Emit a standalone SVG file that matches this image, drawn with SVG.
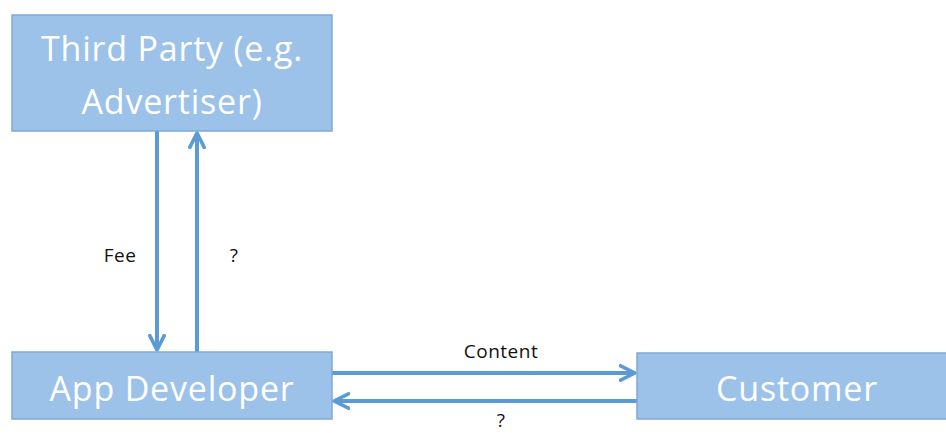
<svg xmlns="http://www.w3.org/2000/svg" width="946" height="433" viewBox="0 0 946 433">
<style>
.box{fill:#9CC2EA;stroke:#7EA9D8;stroke-width:1.5}
.bt{font-family:"Open Sans","Liberation Sans",sans-serif;font-size:34px;letter-spacing:0.8px;fill:#ffffff;text-anchor:middle}
.lbl{font-family:"Open Sans","Liberation Sans",sans-serif;font-size:19px;letter-spacing:0.5px;fill:#111111;text-anchor:middle}
.arr{stroke:#5B9BD5;stroke-width:4;fill:none;marker-end:url(#ah)}
</style>
<defs>
<marker id="ah" viewBox="0 0 10 10" refX="9" refY="5" markerWidth="4.5" markerHeight="4.5" orient="auto" markerUnits="strokeWidth">
<path d="M1,1 L9,5 L1,9" fill="none" stroke="#5B9BD5" stroke-width="2" stroke-linecap="round" stroke-linejoin="round"/>
</marker>
</defs>
<rect width="946" height="433" fill="#ffffff"/>
<g id="connectors">
<line class="arr" x1="157" y1="131" x2="157" y2="350"/>
<line class="arr" x1="197" y1="352" x2="197" y2="133"/>
<line class="arr" x1="332" y1="373" x2="635" y2="373"/>
<line class="arr" x1="637" y1="401" x2="334" y2="401"/>
<text class="lbl" x="120" y="262">Fee</text>
<text class="lbl" x="234" y="262">?</text>
<text class="lbl" x="501" y="358">Content</text>
<text class="lbl" x="501" y="427">?</text>
</g>
<g id="third-party">
<rect class="box" x="12" y="15" width="320" height="116"/>
<text class="bt" x="172" y="61">Third Party (e.g.</text>
<text class="bt" x="172" y="114">Advertiser)</text>
</g>
<g id="app-developer">
<rect class="box" x="12" y="352" width="320" height="67"/>
<text class="bt" x="172" y="401">App Developer</text>
</g>
<g id="customer">
<rect class="box" x="637" y="353" width="320" height="66"/>
<text class="bt" x="797" y="401">Customer</text>
</g>
</svg>
